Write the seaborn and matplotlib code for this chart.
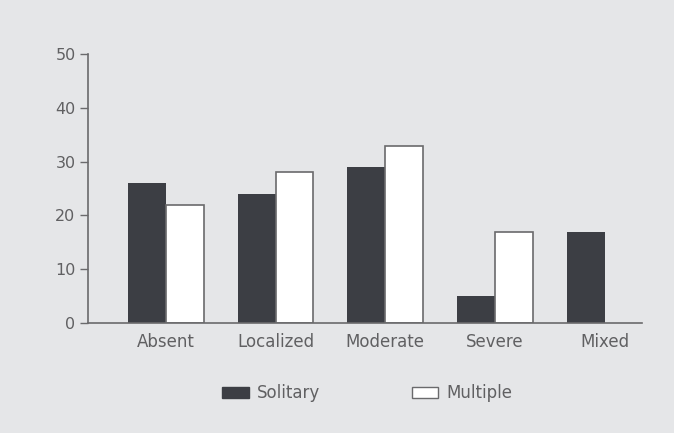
import matplotlib
matplotlib.use("Agg")
import matplotlib.pyplot as plt
import seaborn as sns
import pandas as pd
import numpy as np
from matplotlib.patches import Patch

categories = ["Absent", "Localized", "Moderate", "Severe", "Mixed"]
solitary = [26, 24, 29, 5, 17]
multiple = [22, 28, 33, 17, np.nan]
series = ["Solitary", "Multiple"]
yticks = [0, 10, 20, 30, 40, 50]

df = pd.DataFrame({
    "category": categories * 2,
    "value": solitary + multiple,
    "series": [series[0]] * len(categories) + [series[1]] * len(categories),
})

bg = "#e5e6e8"
dark = "#3c3e44"
textc = "#606062"
linec = "#6a6a6c"

sns.set_theme(style="white")
plt.rcParams["font.family"] = ["DejaVu Sans"]

fig = plt.figure(figsize=(6.74, 4.33), dpi=100, facecolor=bg)
ax = fig.add_axes([0.1306, 0.254, 0.8219, 0.621])
ax.set_facecolor(bg)

sns.barplot(data=df, x="category", y="value", hue="series", order=categories,
            hue_order=series, palette=[dark, "white"], width=0.69,
            saturation=1, ax=ax, legend=False)

for p in ax.patches:
    if p.get_facecolor()[0] > 0.9:
        p.set_edgecolor(linec)
        p.set_linewidth(1.2)
    else:
        p.set_edgecolor(dark)
        p.set_linewidth(0)

ax.set_xlim(-0.71, 4.34)
ax.set_ylim(0, 50)
ax.set_yticks(yticks)
ax.set_yticklabels([str(t) for t in yticks], color=textc, fontsize=11.5)
ax.tick_params(axis="y", direction="out", length=6, width=1, color=linec, pad=3, left=True)
ax.tick_params(axis="x", length=0, pad=7, labelsize=12, labelcolor=textc)
ax.set_xlabel("")
ax.set_ylabel("")
for s in ["top", "right"]:
    ax.spines[s].set_visible(False)
for s in ["left", "bottom"]:
    ax.spines[s].set_color(linec)
    ax.spines[s].set_linewidth(1.2)

handles = [Patch(facecolor=dark, edgecolor=dark, label="Solitary"),
           Patch(facecolor="white", edgecolor=linec, label="Multiple")]
leg = fig.legend(handles=handles, loc="center", bbox_to_anchor=(0.545, 0.092), ncol=2,
                 frameon=False, fontsize=12, columnspacing=5.5, handlelength=1.6,
                 handleheight=0.6, handletextpad=0.5)
for t in leg.get_texts():
    t.set_color(textc)

fig.savefig("out.png", dpi=100, facecolor=bg)
